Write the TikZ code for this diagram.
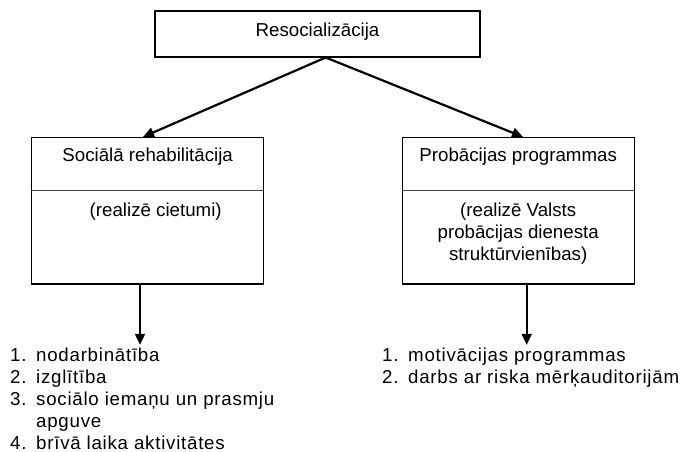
\documentclass[tikz,border=0pt]{standalone}
\usepackage{fontspec}
\setmainfont{Liberation Sans}
\newfontfamily\listfont[LetterSpace=4]{Liberation Sans}
\usetikzlibrary{arrows.meta,calc,positioning}
\tikzset{
    box/.style = {rectangle, draw, line width=1.2pt, inner sep=0pt,
                  minimum width=232pt, minimum height=146.4pt},
    topbox/.style = {rectangle, draw, line width=1.2pt, inner sep=0pt,
                  minimum width=325pt, minimum height=46pt},
    txt/.style = {inner sep=0pt, align=center, font=\fontsize{18.7}{22}\selectfont},
    lst/.style = {inner sep=0pt, anchor=north west, font=\listfont\fontsize{18.7}{22}\selectfont},
    tip/.style = {Triangle[length=11pt,width=10pt]},
    arr/.style = {-{Triangle[length=11pt,width=10pt]}, line width=2.2pt},
    divider/.style = {line width=1.4pt, black!75}
}
\newcommand{\itm}[1]{\makebox[26pt][l]{#1}}

\begin{document}
\begin{tikzpicture}[x=1pt,y=-1pt]
    \useasboundingbox (0,0) rectangle (685,451);

    \node[topbox] (reso) at (317.5,34) {};
    \node[box] (soc) [below=79.3pt of reso, xshift=-169.8pt] {};
    \node[box] (prob) [below=79.3pt of reso, xshift=200.7pt] {};

    \node[txt] (resotxt) [below=12pt of reso.north] {Resocializācija};
    \node[txt] (soctxt) [below=10.5pt of soc.north] {Sociālā rehabilitācija};
    \node[txt] (socwho) [below=65.4pt of soc.north, xshift=8pt] {(realizē cietumi)};
    \node[txt] (probtxt) [below=10.5pt of prob.north] {Probācijas programmas};
    \node[txt] (probwho) [below=65.4pt of prob.north] {(realizē Valsts\\probācijas dienesta\\struktūrvienības)};

    % dividers
    \coordinate (socmid) at ($(soc.north)+(0,53.7)$);
    \coordinate (probmid) at ($(prob.north)+(0,53.7)$);
    \draw[divider] (soc.west |- socmid) -- (soc.east |- socmid);
    \draw[divider] (prob.west |- probmid) -- (prob.east |- probmid);

    % arrows
    \coordinate (fork) at (325.7,57.5);
    \draw[{Triangle[length=11pt,width=10pt]}-{Triangle[length=11pt,width=10pt]}, line width=2.2pt, line join=miter]
        ([xshift=-4.7pt]soc.north) -- (fork) -- ([xshift=4.8pt]prob.north);
    \coordinate (socout) at ($(soc.south)+(-7.7,60.3)$);
    \coordinate (probout) at ($(prob.south)+(8.5,60.3)$);
    \draw[arr] ([xshift=-7.7pt]soc.south) -- (socout);
    \draw[arr] ([xshift=8.5pt]prob.south) -- (probout);

    \node[lst] (soclist) at (10,346.3) {\begin{tabular}{@{}l@{}}
        \itm{1.}nodarbinātība\\
        \itm{2.}izglītība\\
        \itm{3.}sociālo iemaņu un prasmju\\
        \itm{}apguve\\
        \itm{4.}brīvā laika aktivitātes
    \end{tabular}};
    \node[lst] (problist) at (382,346.3) {\begin{tabular}{@{}l@{}}
        \itm{1.}motivācijas programmas\\
        \itm{2.}darbs ar riska mērķauditorijām
    \end{tabular}};
\end{tikzpicture}
\end{document}
